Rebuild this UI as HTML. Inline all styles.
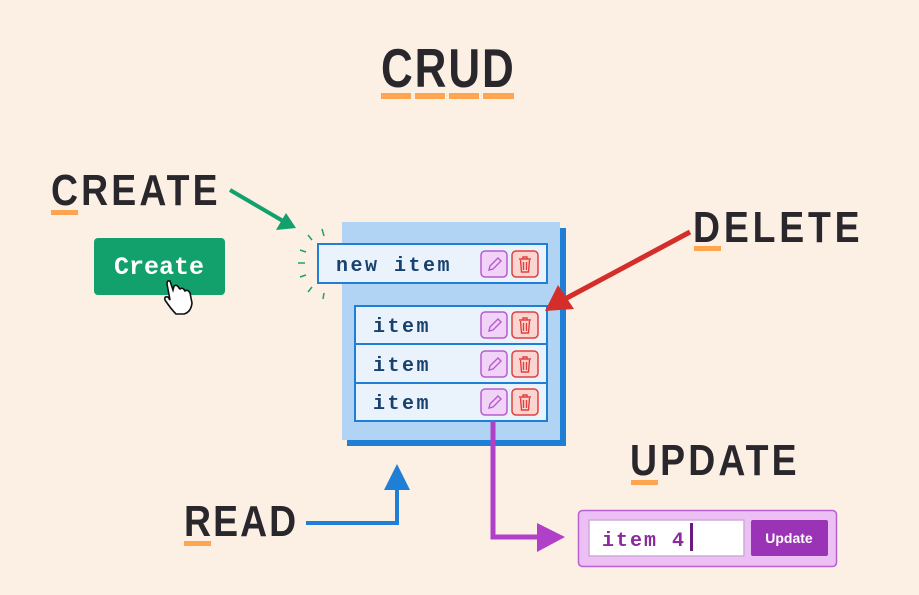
<!DOCTYPE html>
<html><head><meta charset="utf-8"><style>
html,body{margin:0;padding:0;background:#fcefe4;}
svg{display:block}
.h{font-family:"Liberation Sans",sans-serif;font-weight:bold;fill:#29272c;}
.m{font-family:"Liberation Mono",monospace;font-weight:bold;}
</style></head><body>
<svg width="919" height="595" viewBox="0 0 919 595" xmlns="http://www.w3.org/2000/svg">
<rect width="919" height="595" fill="#fcefe4"/>
<defs>
<g id="pen"><rect x="0" y="0" width="26" height="26" rx="4" fill="#f0d3f7" stroke="#b85bd2" stroke-width="1.5"/><path d="M8 19 L9 15 L17 7 L20 10 L12 18 Z" fill="none" stroke="#b85bd2" stroke-width="1.4"/></g>
<g id="bin"><rect x="0" y="0" width="26" height="26" rx="4" fill="#fbd5d2" stroke="#e0413d" stroke-width="1.5"/><path d="M7 8 H19 M11 8 V6 H15 V8 M8.5 9 L9.5 21 H16.5 L17.5 9 M11.5 11 V19 M14.5 11 V19" fill="none" stroke="#e0413d" stroke-width="1.4"/></g>
</defs>
<text class="h" transform="translate(381,87) scale(0.8,1)" font-size="55" textLength="166" lengthAdjust="spacing">CRUD</text>
<g fill="#ffa44f"><rect x="381" y="93" width="30" height="6"/><rect x="415" y="93" width="30" height="6"/><rect x="449" y="93" width="30" height="6"/><rect x="483" y="93" width="31" height="6"/></g>
<text class="h" transform="translate(51,205) scale(0.85,1)" font-size="44" textLength="196" lengthAdjust="spacing">CREATE</text>
<rect x="51" y="210" width="27" height="5" fill="#ffa44f"/>
<text class="h" transform="translate(693,242) scale(0.85,1)" font-size="44" textLength="196" lengthAdjust="spacing">DELETE</text>
<rect x="694" y="246" width="27" height="5" fill="#ffa44f"/>
<text class="h" transform="translate(630,475) scale(0.85,1)" font-size="44" textLength="196" lengthAdjust="spacing">UPDATE</text>
<rect x="631" y="480" width="27" height="5" fill="#ffa44f"/>
<text class="h" transform="translate(184,536) scale(0.85,1)" font-size="44" textLength="132" lengthAdjust="spacing">READ</text>
<rect x="184" y="541" width="27" height="5" fill="#ffa44f"/>
<rect x="94" y="238" width="131" height="57" rx="4" fill="#12a06d"/>
<text class="m" x="159" y="274" font-size="25" fill="#fff" text-anchor="middle">Create</text>
<path d="M170 300 L167 284 Q167 280 170 281 L173 290 L174 286 Q177 284 179 288 L180 289 Q183 287 185 291 Q188 289 190 293 L192 303 Q191 312 184 314 L176 314 Q171 309 165 300 Q164 296 168 297 Z" fill="#fff" stroke="#111" stroke-width="1.6"/>
<line x1="230" y1="190" x2="283" y2="221" stroke="#12a06d" stroke-width="4"/>
<polygon points="296,228 276,230 286,213" fill="#12a06d"/>
<g stroke="#21a06b" stroke-width="1.5"><line x1="308" y1="235" x2="312" y2="240"/><line x1="322" y1="229" x2="324" y2="236"/><line x1="300" y1="250" x2="306" y2="252"/><line x1="298" y1="263" x2="305" y2="263"/><line x1="300" y1="277" x2="306" y2="275"/><line x1="308" y1="292" x2="312" y2="287"/><line x1="323" y1="299" x2="324" y2="293"/></g>
<rect x="347" y="228" width="219" height="218" fill="#1f7ed6"/>
<rect x="342" y="222" width="218" height="218" fill="#b1d3f4"/>
<rect x="318" y="244" width="229" height="39" fill="#eaf3fb" stroke="#1f7ed6" stroke-width="2"/>
<text class="m" x="336" y="271" font-size="20" fill="#18416e" letter-spacing="2.5">new item</text>
<use href="#pen" x="481" y="251"/><use href="#bin" x="512" y="251"/>
<rect x="355" y="306" width="192" height="115" fill="#eaf3fb" stroke="#1f7ed6" stroke-width="2"/>
<line x1="355" y1="344" x2="547" y2="344" stroke="#1f7ed6" stroke-width="2"/>
<line x1="355" y1="383" x2="547" y2="383" stroke="#1f7ed6" stroke-width="2"/>
<text class="m" x="373" y="332" font-size="20" fill="#18416e" letter-spacing="2.5">item</text>
<text class="m" x="373" y="371" font-size="20" fill="#18416e" letter-spacing="2.5">item</text>
<text class="m" x="373" y="409" font-size="20" fill="#18416e" letter-spacing="2.5">item</text>
<use href="#pen" x="481" y="312"/><use href="#bin" x="512" y="312"/>
<use href="#pen" x="481" y="351"/><use href="#bin" x="512" y="351"/>
<use href="#pen" x="481" y="389"/><use href="#bin" x="512" y="389"/>
<line x1="690" y1="232" x2="565" y2="299" stroke="#d42e2a" stroke-width="5"/>
<polygon points="545,311 558,285 574,309" fill="#d42e2a"/>
<polyline points="306,523 397,523 397,488" fill="none" stroke="#1f7ed6" stroke-width="4"/>
<polygon points="397,464 384,490 410,490" fill="#1f7ed6"/>
<polyline points="493,421 493,537 540,537" fill="none" stroke="#b040c8" stroke-width="5"/>
<polygon points="565,537 537,523 537,552" fill="#b040c8"/>
<rect x="578.5" y="510.5" width="258" height="56" rx="4" fill="#ecc0f5" stroke="#b760d0" stroke-width="1.5"/>
<rect x="589" y="520" width="155" height="36" fill="#fff" stroke="#cfa9d6" stroke-width="1.5"/>
<text class="m" x="602" y="546" font-size="20" fill="#8b2a9e" letter-spacing="2">item 4</text>
<rect x="690" y="523" width="3" height="28" fill="#6b1a7e"/>
<rect x="751" y="520" width="77" height="36" rx="2" fill="#9b33b6"/>
<text x="789" y="543" font-family="Liberation Sans,sans-serif" font-weight="bold" font-size="14" fill="#fff" text-anchor="middle">Update</text>
</svg>
</body></html>
